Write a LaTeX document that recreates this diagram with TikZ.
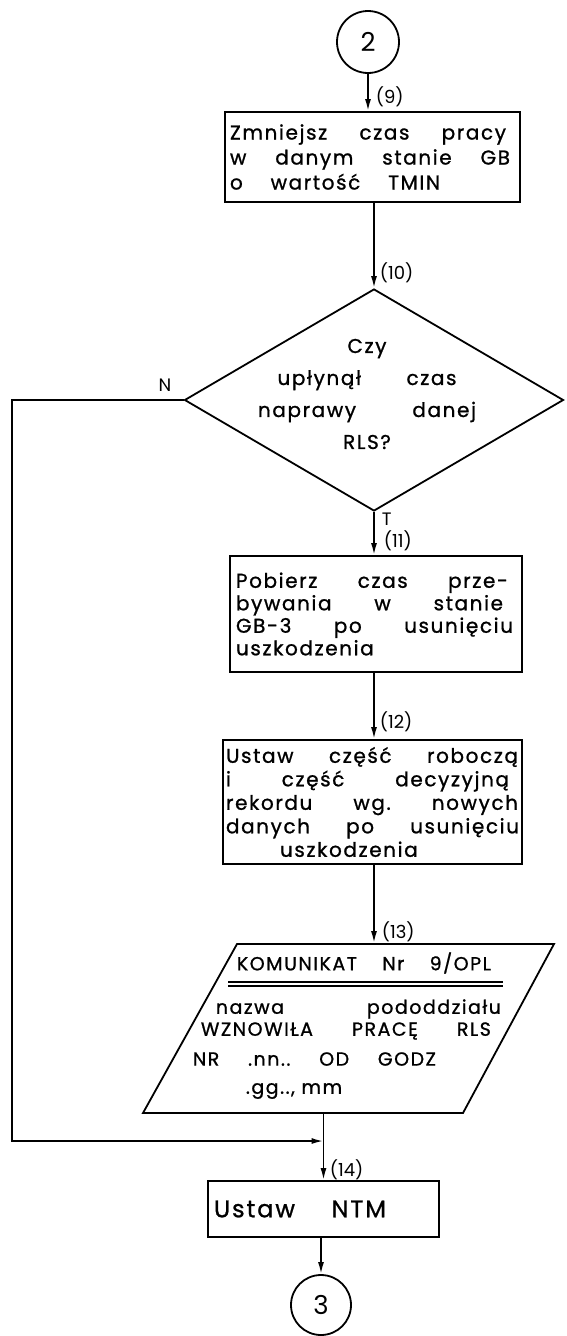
\documentclass[tikz,border=0pt]{standalone}
\usepackage{fontspec}
\setmainfont{Poppins}
\newfontfamily\hand[LetterSpace=8,FakeBold=1]{Poppins}
\usetikzlibrary{arrows.meta,shapes.geometric,calc}
\newcommand\sline[2]{\makebox[#1pt][s]{\spaceskip=0.3em plus 1fil\xspaceskip=0.3em plus 1fil\relax #2}}
\begin{document}
\begin{tikzpicture}[x=1pt,y=-1pt,line width=1.8pt,
  box/.style={draw,rectangle,inner sep=0pt,align=left},
  txt/.style={font=\hand\fontsize{20}{23}\selectfont},
  conn/.style={draw,circle,inner sep=0pt,font=\fontsize{26}{26}\selectfont},
  arr/.style={-{Latex[length=12pt,width=6pt]}},
  lab/.style={font=\fontsize{18}{18}\selectfont,anchor=west,inner sep=1pt},
  ptxt/.style={font=\hand\fontsize{19}{23}\selectfont,anchor=west,inner sep=0pt}]
\useasboundingbox (0,0) rectangle (567,1336);
% connectors circles
\node[conn,minimum size=62pt] (c2) at (368,42) {2};
\node[conn,minimum size=60pt] (c3) at (321,1305) {3};
% box 1
\node[box,txt,minimum width=295pt,minimum height=90pt,text width=285pt,
      font=\hand\fontsize{20}{25}\selectfont] (b1) at (372.5,157)
  {\sline{276}{Zmniejsz czas pracy}\\ \sline{280}{w danym stanie GB}\\ \sline{210}{o wartość TMIN}};
% decision
\node[draw,diamond,aspect=1.7,minimum width=379pt,minimum height=222pt,inner sep=0pt] (d) at (374,400) {};
\node[txt,align=center,font=\hand\fontsize{20}{32}\selectfont] (dt) at (367,394)
  {Czy\\ \sline{179}{upłynął czas}\\ \sline{218}{naprawy danej}\\ RLS?};
% box 2
\node[box,txt,minimum width=292pt,minimum height=116pt,text width=280pt,
      font=\hand\fontsize{20}{22.5}\selectfont] (b2) at (376,614)
  {\sline{272}{Pobierz czas prze-}\\ \sline{267}{bywania w stanie}\\ \sline{277}{GB-3 po usunięciu}\\ uszkodzenia};
% box 3
\node[box,txt,minimum width=299pt,minimum height=124pt,text width=293pt,
      font=\hand\fontsize{20}{23.5}\selectfont] (b3) at (372.5,802)
  {\sline{292}{Ustaw część roboczą}\\ \sline{283}{i część decyzyjną}\\ \sline{292}{rekordu wg. nowych}\\ \sline{293}{danych po usunięciu}\\ \hspace*{54pt}uszkodzenia};
% parallelogram (output)
\node[minimum width=411pt,minimum height=169pt,inner sep=0pt] (par) at (348.5,1028.5) {};
\draw (143,1113) -- (237,944) -- (554,944) -- (463,1113) -- cycle;
\node[ptxt] (p1) at (236,963) {\sline{254}{KOMUNIKAT Nr 9/OPL}};
\draw (228,982) -- (503,982);
\draw (228,986) -- (503,986);
\node[ptxt] (p2) at (215,1009) {\sline{285}{nazwa pododdziału}};
\node[ptxt] (p3) at (200,1031) {\sline{290}{WZNOWIŁA PRACĘ RLS}};
\node[ptxt] (p4) at (192,1059) {\sline{243}{NR .nn.. OD GODZ}};
\node[ptxt] (p5) at (245,1091) {.gg.., mm};
% box 4
\node[box,minimum width=231pt,minimum height=56pt,text width=219pt,
      font=\hand\fontsize{24}{26}\selectfont] (b4) at (323.5,1209)
  {\sline{172}{Ustaw NTM}};
% junction
\coordinate (lc) at (12,1141);
\coordinate (j) at (323.5,1141);
% arrows
\draw[arr] (c2.south) -- (c2.south |- b1.north);
\draw[arr] (b1.south -| d.north) -- (d.north);
\draw[arr] (d.south) -- (d.south |- b2.north);
\draw[arr] (b2.south -| d.south) -- (b3.north -| d.south);
\draw[arr] (b3.south -| d.south) -- (par.north -| d.south);
\draw[arr] (par.south -| b4.north) -- (b4.north);
\draw[arr] (d.west) -| (lc) -- (j);
\draw[arr] (b4.south -| c3.north) -- (c3.north);
% labels
\node[lab] (l9) at (374,97) {(9)};
\node[lab] (l10) at (378,273) {(10)};
\node[lab] (lT) at (380,519) {T};
\node[lab] (l11) at (382,541) {(11)};
\node[lab] (l12) at (378,722) {(12)};
\node[lab] (l13) at (380,932) {(13)};
\node[lab] (l14) at (328,1170) {(14)};
\node[font=\fontsize{18}{18}\selectfont] (lN) at (165,385) {N};
\end{tikzpicture}
\end{document}
